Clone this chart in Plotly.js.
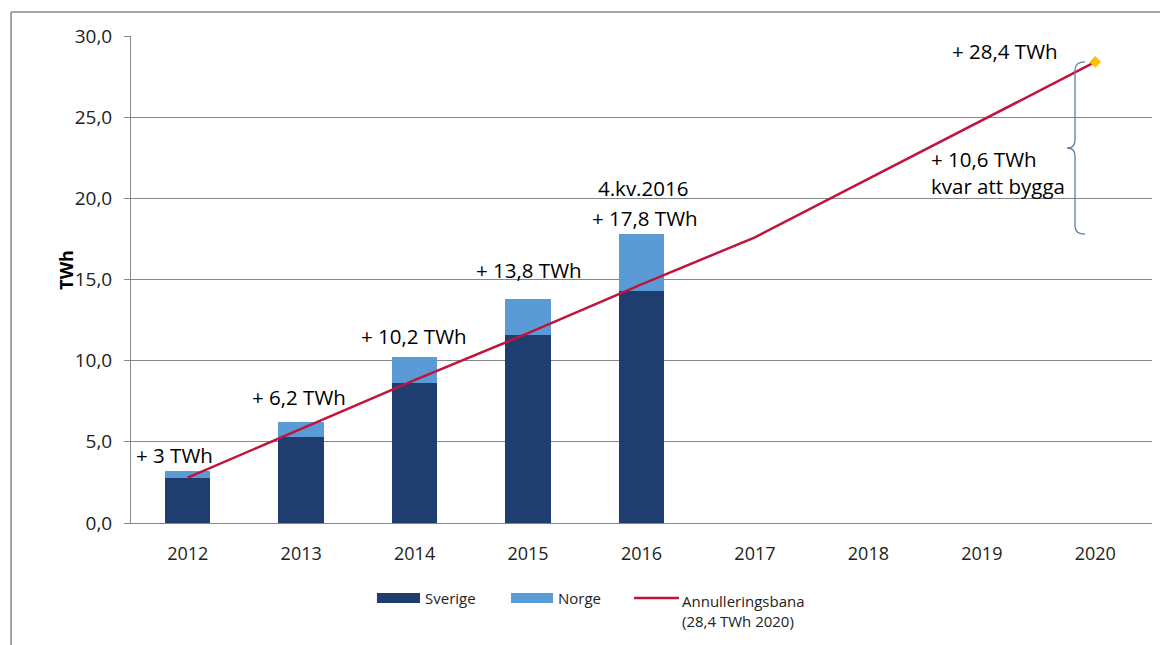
<!DOCTYPE html>
<html>
<head>
<meta charset="utf-8">
<script src="https://cdn.plot.ly/plotly-3.0.1.min.js"></script>
<style>html,body{margin:0;padding:0;background:#fff;}#chart{width:1160px;height:645px;}</style>
</head>
<body>
<div id="chart"></div>
<script>
const years = ['2012','2013','2014','2015','2016','2017','2018','2019','2020'];
const barYears = ['2012','2013','2014','2015','2016'];
const sverige = [2.8, 5.3, 8.6, 11.6, 14.3];
const norge = [0.4, 0.9, 1.6, 2.2, 3.5];
const bana = [2.8, 5.8, 8.8, 11.7, 14.7, 17.6, 21.2, 24.8, 28.4];
const totalLabels = ['+ 3 TWh', '+ 6,2 TWh', '+ 10,2 TWh', '+ 13,8 TWh', '+ 17,8 TWh'];
const labelY = [4.2, 7.75, 11.5, 15.6, 18.8];
const labelShift = [-13, -2, -1, 1, 3];
const target = 28.4;
const built = 17.8;
const legendNames = ['Sverige', 'Norge', 'Annulleringsbana<br>(28,4 TWh 2020)'];
const colSverige = '#1F3D6F', colNorge = '#5B9BD5', colBana = '#C0143C';

const FONT = 'Open Sans, Liberation Sans, sans-serif';
const AF = {family:FONT, size:20.5, color:'#000'};

const traces = [
  {type:'bar', name:'Sverige', x:barYears, y:sverige, marker:{color:colSverige}, width:0.4},
  {type:'bar', name:'Norge', x:barYears, y:norge, marker:{color:colNorge}, width:0.4},
  {type:'scatter', mode:'lines', name:'Annulleringsbana', x:years, y:bana,
   line:{color:colBana, width:2.5}},
  {type:'scatter', mode:'markers', x:[years[years.length-1]], y:[bana[bana.length-1]],
   marker:{symbol:'diamond', size:9, color:'#FFC000'}}
];

const annotations = totalLabels.map((t,i)=>({
  x: i, y: labelY[i], xref:'x', yref:'y', text:t, showarrow:false,
  xshift: labelShift[i], font:AF
}));
annotations.push({x:4, y:20.65, xref:'x', yref:'y', text:'4.kv.2016', showarrow:false, xshift:1, font:AF});
annotations.push({x:8, y:29.05, xref:'x', yref:'y', text:'+ '+target.toFixed(1).replace('.',',')+' TWh', showarrow:false, xshift:-90, font:AF});
annotations.push({x:8, y:21.6, xref:'x', yref:'y', text:'+ '+(target-built).toFixed(1).replace('.',',')+' TWh<br>kvar att bygga', showarrow:false, xshift:-166, xanchor:'left', align:'left', font:AF});
annotations.push({x:-0.0774, y:0.52, xref:'paper', yref:'paper', text:'<b>TWh</b>', textangle:-90, showarrow:false, font:{family:FONT, size:18, color:'#000'}});
// custom legend texts
const LF = {family:FONT, size:15, color:'#222'};
annotations.push({x:0.286, y:-0.154, xref:'paper', yref:'paper', text:legendNames[0], showarrow:false, xanchor:'left', yanchor:'middle', font:LF});
annotations.push({x:0.4165, y:-0.154, xref:'paper', yref:'paper', text:legendNames[1], showarrow:false, xanchor:'left', yanchor:'middle', font:LF});
annotations.push({x:0.538, y:-0.1797, xref:'paper', yref:'paper', text:legendNames[2], showarrow:false, xanchor:'left', yanchor:'middle', align:'left', font:LF});

const xv = 0.9246, xr = 0.9344, xl = 0.9167;
const mid = (target+built)/2;
const brace = `M ${xr},${target} Q ${xv},${target} ${xv},${target-0.5} L ${xv},${mid+0.5} Q ${xv},${mid} ${xl},${mid} Q ${xv},${mid} ${xv},${mid-0.5} L ${xv},${built+0.5} Q ${xv},${built} ${xr},${built}`;

const layout = {
  width:1160, height:645,
  margin:{l:131, r:8, t:36, b:122},
  paper_bgcolor:'#fff', plot_bgcolor:'#fff',
  barmode:'stack',
  showlegend:false,
  xaxis:{type:'category', range:[-0.5,8.5], showgrid:false, showline:true, linecolor:'#878787', linewidth:1,
         ticks:'', tickfont:{family:FONT, size:18, color:'#222'}, ticklabelstandoff:14, zeroline:false, automargin:false},
  yaxis:{range:[0,30], dtick:5, tickformat:'.1f', showgrid:true, gridcolor:'#878787', gridwidth:1,
         showline:true, linecolor:'#878787', ticks:'outside', ticklen:6, tickcolor:'#878787',
         tickfont:{family:FONT, size:19, color:'#222'}, zeroline:false, ticklabelstandoff:8, automargin:false},
  separators:', ',
  annotations: annotations,
  shapes:[
    {type:'path', xref:'paper', yref:'y', path:brace, line:{color:'#5A7FA8', width:1.3}},
    {type:'line', xref:'paper', yref:'paper', x0:-0.1175, x1:1.01, y0:1.0493, y1:1.0493, line:{color:'#878787', width:1.5}},
    {type:'line', xref:'paper', yref:'paper', x0:-0.1175, x1:-0.1175, y0:1.0493, y1:-0.26, line:{color:'#878787', width:1.5}},
    {type:'rect', xref:'paper', yref:'paper', x0:0.2409, x1:0.2831, y0:-0.1643, y1:-0.1437, fillcolor:colSverige, line:{width:0}},
    {type:'rect', xref:'paper', yref:'paper', x0:0.3722, x1:0.4133, y0:-0.1643, y1:-0.1437, fillcolor:colNorge, line:{width:0}},
    {type:'line', xref:'paper', yref:'paper', x0:0.4927, x1:0.5367, y0:-0.154, y1:-0.154, line:{color:colBana, width:2.5}}
  ]
};

Plotly.newPlot('chart', traces, layout, {displayModeBar:false, staticPlot:true});
</script>
</body>
</html>
